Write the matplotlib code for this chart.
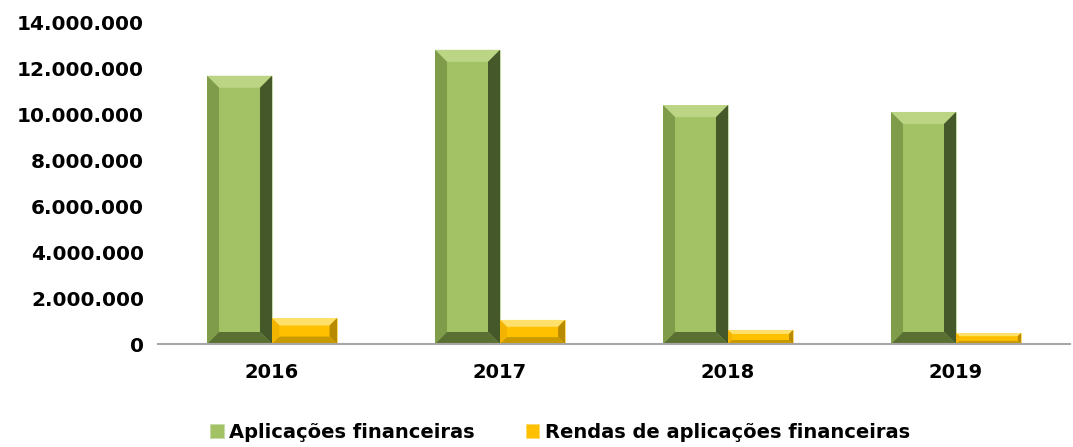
import matplotlib
matplotlib.use("Agg")
import matplotlib.pyplot as plt
from matplotlib.patches import Polygon
from matplotlib.ticker import FuncFormatter
import numpy as np

anos = ["2016", "2017", "2018", "2019"]
aplicacoes = [11700000, 12830000, 10420000, 10120000]
rendas = [1130000, 1050000, 610000, 480000]
nomes = ["Aplicações financeiras", "Rendas de aplicações financeiras"]

# face, light top, left, right(dark), bottom
verde = ["#A3C265", "#BCD585", "#7F9C4A", "#45582A", "#5A7032"]
amarelo = ["#FFC000", "#FFE06A", "#F2B400", "#B88A00", "#C99A00"]

fig = plt.figure(figsize=(10.73, 4.47), dpi=100)
ax = fig.add_axes([158 / 1073, 1 - 344 / 447, 912 / 1073, 321 / 447])

x = np.arange(len(anos))
w = 0.285
b1 = ax.bar(x - w / 2, aplicacoes, w, color=verde[0], edgecolor="#C8D9A8", linewidth=0.6, label=nomes[0])
b2 = ax.bar(x + w / 2, rendas, w, color=amarelo[0], edgecolor="#FFD966", linewidth=0.6, label=nomes[1])

ax.set_xlim(-0.5, len(anos) - 0.5)
ax.set_ylim(0, 14000000)
ax.set_yticks(np.arange(0, 14000001, 2000000))
ax.yaxis.set_major_formatter(FuncFormatter(lambda v, p: f"{int(v):,}".replace(",", ".")))
ax.set_xticks(x)
ax.set_xticklabels(anos)

# bevel effect, computed from bar geometry
px_x = 1.0 / 228.0       # data units per pixel in x
px_y = 14000000 / 321.0  # data units per pixel in y


def bevel(bars, cols):
    for r in bars:
        x0, y0 = r.get_x(), r.get_y()
        bw, bh = r.get_width(), r.get_height()
        x1, y1 = x0 + bw, y0 + bh
        hpx = bh / px_y
        d = min(12, hpx / 3.5)
        dx, dy = d * px_x, d * px_y
        ix0, ix1, iy0, iy1 = x0 + dx, x1 - dx, y0 + dy, y1 - dy
        ax.add_patch(Polygon([(x0, y1), (x1, y1), (ix1, iy1), (ix0, iy1)], color=cols[1], lw=0))
        ax.add_patch(Polygon([(x0, y0), (x0, y1), (ix0, iy1), (ix0, iy0)], color=cols[2], lw=0))
        ax.add_patch(Polygon([(x1, y0), (x1, y1), (ix1, iy1), (ix1, iy0)], color=cols[3], lw=0))
        ax.add_patch(Polygon([(x0, y0), (x1, y0), (ix1, iy0), (ix0, iy0)], color=cols[4], lw=0))


bevel(b1, verde)
bevel(b2, amarelo)

for s in ["top", "right", "left"]:
    ax.spines[s].set_visible(False)
ax.spines["bottom"].set_color("#A6A6A6")
ax.spines["bottom"].set_linewidth(1.5)
ax.tick_params(axis="y", length=0, labelsize=14.5, pad=10)
ax.tick_params(axis="x", length=0, labelsize=14, pad=14)
for t in ax.get_xticklabels() + ax.get_yticklabels():
    t.set_fontweight("bold")

leg = fig.legend(loc="lower center", bbox_to_anchor=(0.522, -0.028), ncol=2, frameon=False,
                 prop={"weight": "bold", "size": 14}, handlelength=0.7, handleheight=0.7,
                 handletextpad=0.3, columnspacing=2.6)

fig.savefig("out.png", dpi=100)
